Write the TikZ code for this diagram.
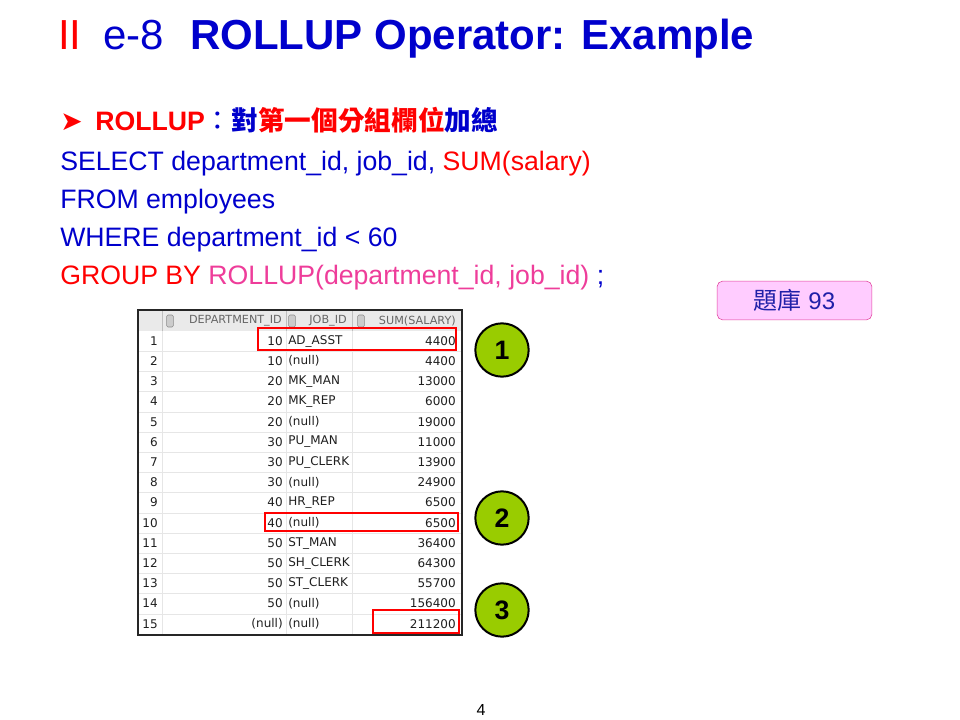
\documentclass[tikz,border=0pt]{standalone}
\usepackage{fontspec}
\setmainfont{Liberation Sans}
\newfontfamily\cjk{Noto Sans CJK TC}
\newfontfamily\gridfont{DejaVu Sans}
\usetikzlibrary{positioning}

\definecolor{titleblue}{HTML}{0000CC}
\definecolor{rollpink}{HTML}{EE3D9A}
\definecolor{boxpink}{HTML}{FFCCFF}
\definecolor{boxedge}{HTML}{E0409A}
\definecolor{banktext}{HTML}{2020A8}
\definecolor{limegreen}{HTML}{99CC00}
\definecolor{gridgray}{HTML}{E6E6E6}
\definecolor{headgray}{HTML}{EAEAEA}

\begin{document}
\begin{tikzpicture}[x=0.75pt,y=-0.75pt,
  textline/.style={anchor=base west,inner sep=0pt,text=titleblue,font=\fontsize{20}{24}\selectfont},
  cell/.style={inner sep=0pt,text=black!88,font=\gridfont\fontsize{9}{10}\selectfont},
  headcell/.style={inner sep=0pt,anchor=east,text=black!60,font=\gridfont\fontsize{8.4}{9}\selectfont},
  sorticon/.style={draw=black!45,fill=black!20,rounded corners=1pt,minimum width=5pt,minimum height=9pt,inner sep=0pt},
  hilite/.style={draw=red,line width=1.5pt},
  callout/.style={circle,draw=black,line width=1.5pt,fill=limegreen,minimum size=40pt,inner sep=0pt,font=\bfseries\fontsize{20}{24}\selectfont}]

\useasboundingbox (0,0) rectangle (960,720);

% Title
\node[anchor=base west,inner sep=0pt,text=red,font=\fontsize{31.5}{36}\selectfont] (roman) at (58,50) {II};
\node[anchor=base west,inner sep=0pt,text=titleblue,font=\fontsize{31.5}{36}\selectfont] (section) at (103,50) {e-8};
\node[anchor=base west,inner sep=0pt,text=titleblue,font=\bfseries\fontsize{31.5}{36}\selectfont] (title) at (190,50) {ROLLUP Operator: Example};

% Bullet and SQL lines
\node[anchor=base west,inner sep=0pt,text=red,font=\gridfont\fontsize{20}{24}\selectfont] (bullet) at (60,131) {➤};
\node[textline,font=\bfseries\fontsize{20}{24}\selectfont] (rule) at (95,131)
  {\textcolor{red}{ROLLUP}{\cjk\mdseries ：}{\cjk 對\textcolor{red}{第一個分組欄位}加總}};
\node[textline] (select) at (60,171) {SELECT department\_id, job\_id, \textcolor{red}{SUM(salary)}};
\node[textline] (from) at (60,209) {FROM employees};
\node[textline] (where) at (60,247) {WHERE department\_id < 60};
\node[textline] (group) at (60,285) {\textcolor{red}{GROUP BY} \textcolor{rollpink}{ROLLUP(department\_id, job\_id)} ;};

% Question bank tag
\node[draw=boxedge,fill=boxpink,rounded corners=4pt,minimum width=116pt,minimum height=29pt,
  text=banktext,font=\fontsize{18}{20}\selectfont] (bank) at (794.5,300.5) {{\cjk 題庫} 93};

% Result grid
\fill[headgray] (138,310) rectangle (462,331);
\foreach \k in {1,...,14}
  \draw[gridgray] (139,{331+\k*20.2}) -- (461,{331+\k*20.2});
\foreach \c in {162,286,352}
  \draw[gridgray] (\c,331) -- (\c,634);
\foreach \c in {162,286,352}
  \draw[black!25] (\c,311) -- (\c,331);
\draw[black!85,line width=1.3pt] (138,310) rectangle (462,635);

% Header
\node[sorticon] (sortdep) at (170,321) {};
\node[headcell] (hdep) at (282,321) {DEPARTMENT\_ID};
\node[sorticon] (sortjob) at (292,321) {};
\node[headcell] (hjob) at (347,321) {JOB\_ID};
\node[sorticon] (sortsum) at (361,321) {};
\node[headcell] (hsum) at (456,321) {SUM(SALARY)};

% Rows
\foreach \i/\d/\j/\s in {1/10/AD\_ASST/4400, 2/10/(null)/4400, 3/20/MK\_MAN/13000,
    4/20/MK\_REP/6000, 5/20/(null)/19000, 6/30/PU\_MAN/11000, 7/30/PU\_CLERK/13900,
    8/30/(null)/24900, 9/40/HR\_REP/6500, 10/40/(null)/6500, 11/50/ST\_MAN/36400,
    12/50/SH\_CLERK/64300, 13/50/ST\_CLERK/55700, 14/50/(null)/156400, 15/(null)/(null)/211200} {
  \node[cell,anchor=east] (num-\i) at (158,{341+(\i-1)*20.2}) {\i};
  \node[cell,anchor=east] (dep-\i) at (283,{341+(\i-1)*20.2}) {\d};
  \node[cell,anchor=west] (job-\i) at (288,{341+(\i-1)*20.2}) {\j};
  \node[cell,anchor=east] (sum-\i) at (456,{341+(\i-1)*20.2}) {\s};
}

% Highlighted rows
\draw[hilite] (258,328) rectangle (456,350);
\draw[hilite] (265,513) rectangle (458,531);
\draw[hilite] (373,610) rectangle (459,633);

% Callouts
\node[callout] (one) at (502,350) {1};
\node[callout] (two) at (502,518) {2};
\node[callout] (three) at (502,610) {3};

% Page number
\node[anchor=base,inner sep=0pt,font=\fontsize{12}{14}\selectfont] (page) at (481,715) {4};

\end{tikzpicture}
\end{document}
